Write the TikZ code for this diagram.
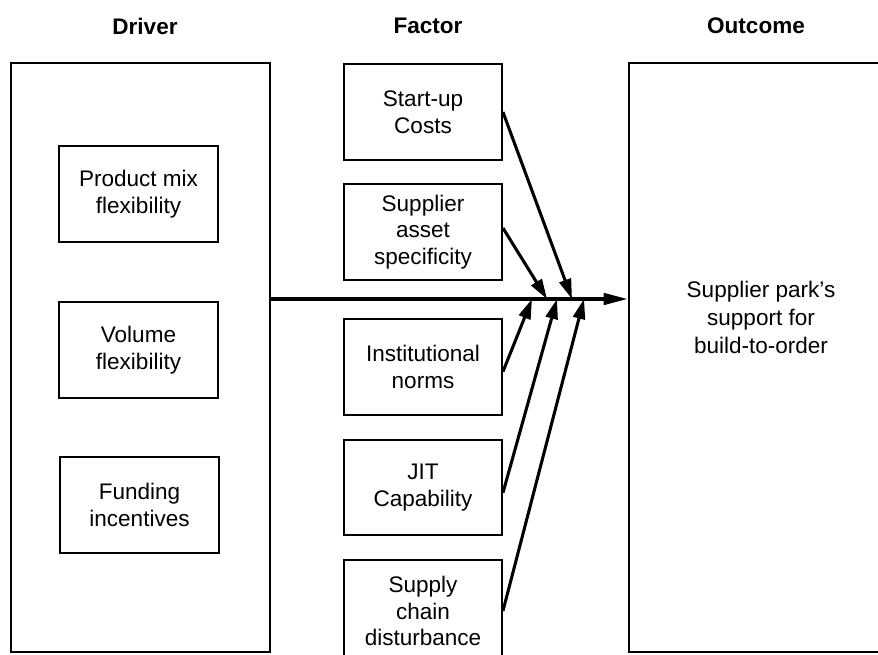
\documentclass[tikz,border=0pt]{standalone}
\usepackage{fontspec}
\setmainfont{Liberation Sans}
\usepackage{tikz}
\usetikzlibrary{calc,arrows.meta}
\tikzset{
  panel/.style={draw=black, line width=1.9pt, inner sep=0pt},
  factorbox/.style={draw=black, line width=1.4pt, inner sep=0pt, minimum width=118.5pt,
    align=center, font=\fontsize{16.9}{20}\selectfont},
  driverbox/.style={factorbox, minimum width=119.25pt, minimum height=72pt},
  head/.style={font=\fontsize{16.9}{21}\selectfont\bfseries},
  lab/.style={align=center, font=\fontsize{16.9}{21}\selectfont},
  mainarrow/.style={-{Triangle[length=18pt,width=8.5pt]}, line width=2.6pt},
  pull/.style={-{Triangle[length=15pt,width=9pt]}, line width=2.3pt}
}
\begin{document}
\begin{tikzpicture}[x=0.75pt,y=-0.75pt]
  % 1 unit = 1 px of the 878x654 layout
  \clip (0,0) rectangle (878,654);

  % column heads
  \node[head] (hdriver) at (145,26) {Driver};
  \node[head] (hfactor) at (428,26) {Factor};
  \node[head] (houtcome) at (756,26) {Outcome};

  % outer panels
  \node[panel, minimum width=194.25pt, minimum height=441.75pt] (driver) at (140.5,357.5) {};
  \node[panel, minimum width=195.75pt, minimum height=441.75pt] (outcome) at (759.5,357.5) {};
  \node[lab] (outtext) at (761,317) {Supplier park's\\support for\\build-to-order};

  % drivers
  \node[driverbox] (mix) at (138.5,194) {Product mix\\flexibility};
  \node[driverbox] (vol) at (138.5,350) {Volume\\flexibility};
  \node[driverbox] (fund) at (139.5,505) {Funding\\incentives};

  % factors
  \node[factorbox, minimum height=72pt] (start) at (423,112) {Start-up\\Costs};
  \node[factorbox, minimum height=72pt] (asset) at (423,232) {Supplier\\asset\\specificity};
  \node[factorbox, minimum height=72pt] (norms) at (423,367) {Institutional\\norms};
  \node[factorbox, minimum height=71pt] (jit) at (423,487.5) {JIT\\Capability};
  \node[factorbox, minimum height=76.5pt] (chain) at (423,611) {Supply\\chain\\disturbance};

  % main link driver -> outcome
  \coordinate (mainL) at (270,299);
  \draw[mainarrow] (mainL) -- (mainL -| outcome.west);

  % where the factors meet the main link
  \coordinate (tStart) at (572,299);
  \coordinate (tAsset) at (547,299);
  \coordinate (tNorms) at (532,299);
  \coordinate (tJit) at (557,299);
  \coordinate (tChain) at (584,299);

  \draw[pull] (start.east) -- (tStart);
  \draw[pull] ([yshift=3pt]asset.east) -- (tAsset);
  \draw[pull] ([yshift=-3.5pt]norms.east) -- (tNorms);
  \draw[pull] ([yshift=-4pt]jit.east) -- (tJit);
  \draw[pull] (chain.east) -- (tChain);
\end{tikzpicture}
\end{document}
